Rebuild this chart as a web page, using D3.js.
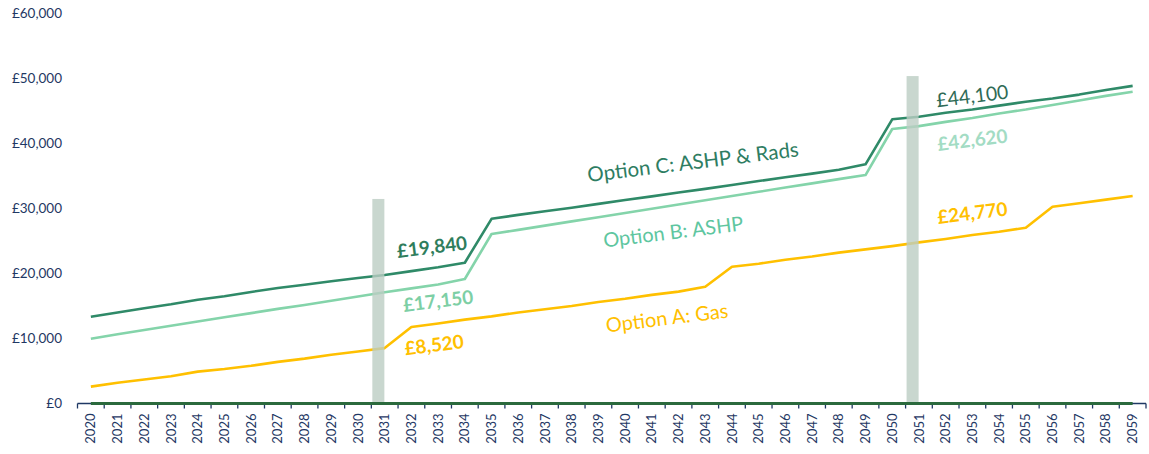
<!DOCTYPE html>
<html lang="en">
<head>
<meta charset="UTF-8">
<script src="https://cdn.jsdelivr.net/npm/d3@7"></script>
<style>
  body { margin: 0; background: #fff; }
  svg { display: block; font-family: Lato, "DejaVu Sans", sans-serif; }
  .ylab text, .xlab text { fill: #1f3864; }
</style>
</head>
<body>
<svg width="1149" height="454"></svg>
<script>
// --- data ---
var years = ["2020","2021","2022","2023","2024","2025","2026","2027","2028","2029",
             "2030","2031","2032","2033","2034","2035","2036","2037","2038","2039",
             "2040","2041","2042","2043","2044","2045","2046","2047","2048","2049",
             "2050","2051","2052","2053","2054","2055","2056","2057","2058","2059"];

var optionA = [2600, 3200, 3700, 4200, 4900, 5300, 5800, 6400, 6900, 7500,
               8000, 8520, 11770, 12300, 12900, 13400, 14000, 14500, 15000, 15600,
               16100, 16700, 17200, 17960, 21040, 21500, 22100, 22600, 23200, 23700,
               24200, 24770, 25300, 25900, 26400, 27030, 30260, 30800, 31350, 31900];

var optionB = [9950, 10650, 11300, 11950, 12600, 13250, 13900, 14550, 15150, 15800,
               16450, 17100, 17700, 18300, 19150, 26060, 26700, 27350, 28000, 28650,
               29300, 29950, 30600, 31250, 31900, 32550, 33200, 33850, 34500, 35130,
               42210, 42650, 43300, 43900, 44600, 45200, 45900, 46600, 47300, 47950];

var optionC = [13350, 14000, 14650, 15250, 15950, 16500, 17150, 17750, 18250, 18800,
               19300, 19750, 20350, 20950, 21650, 28400, 29000, 29550, 30100, 30700,
               31300, 31850, 32450, 33000, 33600, 34200, 34800, 35350, 35950, 36780,
               43700, 44100, 44700, 45200, 45800, 46400, 46900, 47500, 48200, 48840];

var markerYears = ["2031", "2051"];
var markerValues = [31450, 50350];

var yTicks = [0, 10000, 20000, 30000, 40000, 50000, 60000];

// annotations: text, (fractional) year and value of their centre, colour, weight, size
var noteText   = ["£19,840", "£17,150", "£8,520", "Option C: ASHP & Rads", "Option B: ASHP", "Option A: Gas", "£44,100", "£42,620", "£24,770"];
var noteYear   = [2032.77, 2033.0, 2032.85, 2042.54, 2041.8, 2041.57, 2053.0, 2053.0, 2053.0];
var noteValue  = [24060, 15760, 8990, 37130, 26370, 13150, 47280, 40520, 29290];
var noteColour = ["#2e7d5c", "#7dcfa5", "#ffc000", "#2e7d62", "#5ec6a0", "#ffc000", "#2f6b56", "#a3dcc4", "#ffc000"];
var noteWeight = ["bold", "bold", "bold", "normal", "normal", "normal", "normal", "bold", "bold"];
var noteSize   = [19, 19, 19, 20.5, 20, 20, 19.5, 19, 19];

var svg = d3.select("svg");
var plotLeft = 77.5, plotRight = 1146, plotTop = 13.3, plotBottom = 403.5;

var x = d3.scaleBand().domain(years).range([plotLeft, plotRight]).paddingInner(0).paddingOuter(0);
var y = d3.scaleLinear().domain([0, 60000]).range([plotBottom, plotTop]);
var cx = function(yr) { return x(yr) + x.bandwidth() / 2; };
// continuous year scale for placing annotations between categories
var xn = d3.scaleLinear().domain([+years[0], +years[years.length - 1]])
    .range([cx(years[0]), cx(years[years.length - 1])]);

// y labels
var ylab = svg.append("g").attr("class", "ylab");
ylab.selectAll("text").data(yTicks).enter().append("text")
    .attr("x", 62).attr("y", function(d){ return y(d); })
    .attr("dy", "0.35em").attr("text-anchor", "end")
    .style("font-size", "13.5px")
    .text(function(d){ return "£" + d3.format(",")(d); });

// series lines
var line = d3.line()
    .x(function(d, i){ return cx(years[i]); })
    .y(function(d){ return y(d); });

var series = [
    {vals: optionA, colour: "#ffc000"},
    {vals: optionB, colour: "#84d4aa"},
    {vals: optionC, colour: "#2f8a68"}
];
svg.selectAll(".series").data(series).enter().append("path")
    .attr("class", "series")
    .attr("d", function(d){ return line(d.vals); })
    .attr("fill", "none")
    .attr("stroke", function(d){ return d.colour; })
    .attr("stroke-width", 2.6)
    .attr("stroke-linejoin", "round");

// grey marker columns
svg.selectAll(".mark").data(markerYears).enter().append("rect")
    .attr("class", "mark")
    .attr("x", function(d){ return x(d) + 1; })
    .attr("width", x.bandwidth() * 0.45)
    .attr("y", function(d, i){ return y(markerValues[i]); })
    .attr("height", function(d, i){ return y(0) - y(markerValues[i]); })
    .attr("fill", "#bccdc3")
    .attr("fill-opacity", 0.8);

// x axis: line, boundary ticks, rotated labels
svg.append("line")
    .attr("x1", plotLeft).attr("x2", plotRight)
    .attr("y1", plotBottom).attr("y2", plotBottom)
    .attr("stroke", "#1f3864").attr("stroke-width", 1.5);

var bounds = years.map(function(d){ return x(d); }).concat([plotRight]);
svg.selectAll(".tick").data(bounds).enter().append("line")
    .attr("class", "tick")
    .attr("x1", function(d){ return d; }).attr("x2", function(d){ return d; })
    .attr("y1", plotBottom).attr("y2", plotBottom + 5)
    .attr("stroke", "#1f3864").attr("stroke-width", 1.3);

// dark green zero line along the axis
svg.append("line")
    .attr("x1", cx(years[0])).attr("x2", cx(years[years.length - 1]))
    .attr("y1", y(0)).attr("y2", y(0))
    .attr("stroke", "#2b6a3d").attr("stroke-width", 3);

var xlab = svg.append("g").attr("class", "xlab");
xlab.selectAll("text").data(years).enter().append("text")
    .attr("transform", function(d){ return "translate(" + cx(d) + "," + (plotBottom + 10) + ") rotate(-90)"; })
    .attr("dy", "0.35em").attr("text-anchor", "end")
    .style("font-size", "13px")
    .text(function(d){ return d; });

// annotations
svg.selectAll(".note").data(noteText).enter().append("text")
    .attr("class", "note")
    .attr("transform", function(d, i){
        return "translate(" + xn(noteYear[i]) + "," + y(noteValue[i]) + ") rotate(-7)";
    })
    .attr("text-anchor", "middle").attr("dy", "0.35em")
    .attr("fill", function(d, i){ return noteColour[i]; })
    .style("font-weight", function(d, i){ return noteWeight[i]; })
    .style("font-size", function(d, i){ return noteSize[i] + "px"; })
    .text(function(d){ return d; });
</script>
</body>
</html>
